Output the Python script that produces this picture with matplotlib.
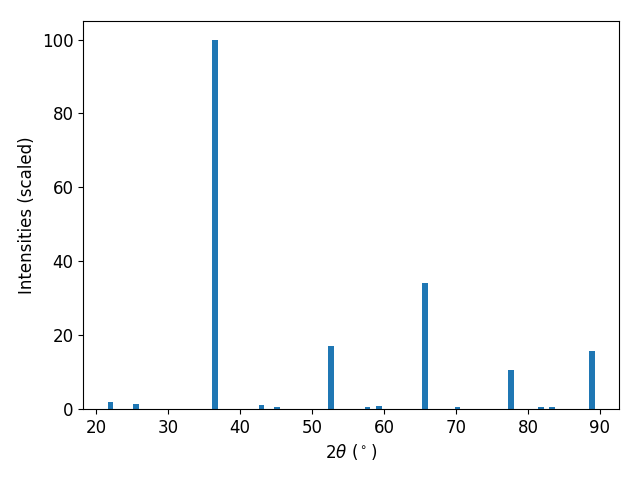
import matplotlib
matplotlib.use("Agg")
import matplotlib.pyplot as plt

# peak positions (2theta, degrees) and scaled intensities
two_theta = [22.0, 25.5, 36.5, 43.0, 45.1, 52.6, 57.7, 59.3,
             65.65, 70.2, 77.6, 81.8, 83.3, 88.85]
intensity = [1.9, 1.4, 100.0, 1.1, 0.5, 17.1, 0.5, 0.8,
             34.1, 0.5, 10.6, 0.5, 0.5, 15.7]

plt.rcParams["font.size"] = 12

fig, ax = plt.subplots(figsize=(6.4, 4.8), dpi=100)

ax.bar(two_theta, intensity, width=0.8, color="tab:blue")

ax.set_xlabel(r"$2\theta$ ($^\circ$)")
ax.set_ylabel("Intensities (scaled)")

fig.subplots_adjust(left=0.13, right=0.967, top=0.956, bottom=0.148)
fig.savefig("out.png", dpi=100)
